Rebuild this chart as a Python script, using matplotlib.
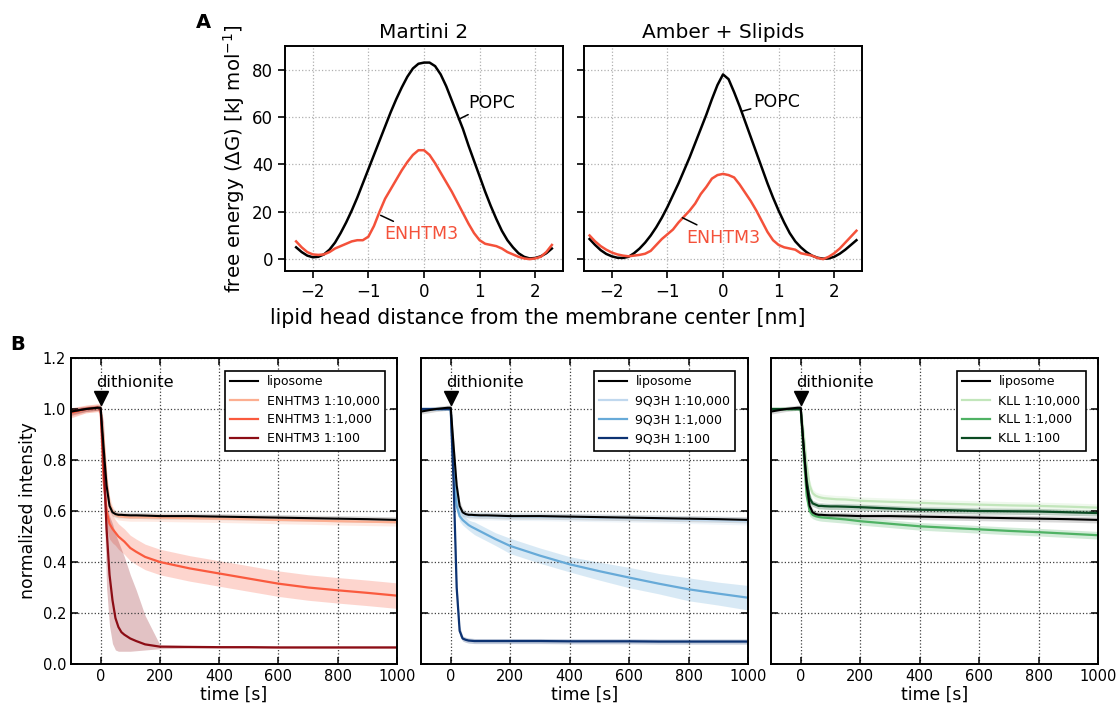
import numpy as np
import matplotlib.pyplot as plt

# ---- panel A: free energy profiles ----
x_martini = [-2.3, -2.2, -2.1, -2.0, -1.9, -1.8, -1.7, -1.6, -1.5, -1.4, -1.3, -1.2,
             -1.1, -1.0, -0.9, -0.8, -0.7, -0.6, -0.5, -0.4, -0.3, -0.2, -0.1, 0.0,
             0.1, 0.2, 0.3, 0.4, 0.5, 0.6, 0.7, 0.8, 0.9, 1.0, 1.1, 1.2, 1.3, 1.4,
             1.5, 1.6, 1.7, 1.8, 1.9, 2.0, 2.1, 2.2, 2.3]
popc_martini = [5, 3, 1.5, 0.8, 1, 2, 4, 7, 11, 15.5, 20.5, 26, 32, 38, 44, 50, 56,
                62, 67.5, 72.5, 77, 80.5, 82.5, 83, 83, 81.5, 78, 73, 67, 61, 55, 48,
                41.5, 35, 28.5, 22.5, 17, 12, 8, 5, 2.5, 1, 0.3, 0.5, 1.2, 2.5, 4.5]
enhtm3_martini = [7.5, 5, 3, 2, 1.8, 2, 3, 4.5, 5.5, 6.5, 7.5, 8, 8, 9.5, 14, 20,
                  25.5, 29.5, 33.5, 37.5, 41, 44, 46, 46, 44, 40.5, 36.5, 32.5, 28.5,
                  24, 19.5, 15, 11, 8, 6.5, 6, 5.5, 4.5, 3, 2, 1, 0.3, 0, 0.3, 1, 3, 6]

x_amber = [-2.4, -2.3, -2.2, -2.1, -2.0, -1.9, -1.8, -1.7, -1.6, -1.5, -1.4, -1.3,
           -1.2, -1.1, -1.0, -0.9, -0.8, -0.7, -0.6, -0.5, -0.4, -0.3, -0.2, -0.1,
           0.0, 0.1, 0.2, 0.3, 0.4, 0.5, 0.6, 0.7, 0.8, 0.9, 1.0, 1.1, 1.2, 1.3, 1.4,
           1.5, 1.6, 1.7, 1.8, 1.9, 2.0, 2.1, 2.2, 2.3, 2.4]
popc_amber = [8.5, 6, 3.8, 2.2, 1.2, 0.6, 0.5, 1, 2.5, 4.5, 7, 10, 13.5, 17.5, 22,
              27, 32, 37.5, 43, 49, 55, 61, 67.5, 73.5, 78, 76, 70.5, 64.5, 58, 51.5,
              45, 38.5, 32, 26, 20.5, 15.5, 11, 7.5, 5, 3, 1.5, 0.6, 0.2, 0.3, 1, 2.3,
              4, 6, 8]
enhtm3_amber = [10, 7.5, 5.5, 4, 2.8, 2, 1.5, 1.2, 1.5, 1.8, 2.3, 3.5, 6, 8.5, 10.5,
                12.5, 15.5, 18, 20.5, 23.5, 27.5, 30.5, 34, 35.5, 36, 35.5, 34.5,
                31.5, 28, 24.5, 20.5, 16, 11.5, 8, 6, 5, 4.5, 4, 2.5, 2, 1.5, 0.5, 0,
                1, 2.5, 4.5, 7, 9.5, 12]

# ---- panel B: dithionite quenching ----
t = [-100, -50, -10, 0, 10, 20, 30, 40, 50, 60, 70, 80, 100, 120, 150, 200, 300,
     400, 500, 600, 700, 800, 900, 1000]
liposome = [0.99, 1.0, 1.005, 1.005, 0.85, 0.7, 0.62, 0.595, 0.588, 0.585, 0.585,
            0.584, 0.583, 0.583, 0.582, 0.58, 0.58, 0.578, 0.576, 0.574, 0.572, 0.57,
            0.568, 0.565]
liposome_sd = [0.01] * 4 + [0.03, 0.03, 0.02, 0.015] + [0.012] * 16

enhtm3_labels = ['ENHTM3 1:10,000', 'ENHTM3 1:1,000', 'ENHTM3 1:100']
enhtm3_mean = [
    [0.985, 1.0, 1.005, 1.0, 0.88, 0.72, 0.63, 0.6, 0.585, 0.58, 0.578, 0.577, 0.575,
     0.575, 0.575, 0.574, 0.572, 0.57, 0.568, 0.565, 0.563, 0.56, 0.558, 0.556],
    [0.985, 1.0, 1.005, 1.0, 0.72, 0.6, 0.55, 0.53, 0.515, 0.5, 0.49, 0.48, 0.455,
     0.44, 0.42, 0.40, 0.375, 0.355, 0.335, 0.315, 0.30, 0.289, 0.279, 0.268],
    [0.99, 1.0, 1.005, 1.0, 0.8, 0.53, 0.35, 0.25, 0.18, 0.145, 0.125, 0.115, 0.1,
     0.09, 0.077, 0.068, 0.067, 0.066, 0.066, 0.065, 0.065, 0.065, 0.065, 0.065],
]
enhtm3_sd = [
    [0.015] * 4 + [0.05, 0.04, 0.03, 0.02] + [0.015] * 16,
    [0.02, 0.015, 0.015, 0.02] + [0.08, 0.07, 0.06, 0.055] + [0.05] * 16,
    None,
]
# the 1:100 band is lopsided, so its edges are kept as they are read
enhtm3_100_lo = [0.975, 0.99, 0.995, 0.99, 0.7, 0.3, 0.15, 0.08, 0.055, 0.05, 0.05,
                 0.05, 0.05, 0.052, 0.055, 0.06, 0.062, 0.062, 0.062, 0.061, 0.061,
                 0.061, 0.061, 0.061]
enhtm3_100_hi = [1.005, 1.01, 1.015, 1.01, 0.95, 0.62, 0.58, 0.55, 0.51, 0.48, 0.45,
                 0.42, 0.35, 0.29, 0.19, 0.075, 0.072, 0.07, 0.07, 0.069, 0.069, 0.069,
                 0.069, 0.069]

q3h_labels = ['9Q3H 1:10,000', '9Q3H 1:1,000', '9Q3H 1:100']
q3h_mean = [
    [1.0, 1.0, 1.0, 1.0, 0.8, 0.66, 0.6, 0.59, 0.585, 0.582, 0.581, 0.58, 0.58, 0.58,
     0.579, 0.578, 0.577, 0.575, 0.573, 0.571, 0.569, 0.566, 0.563, 0.56],
    [1.0, 1.0, 1.0, 1.0, 0.75, 0.62, 0.58, 0.565, 0.555, 0.545, 0.538, 0.532, 0.52,
     0.508, 0.49, 0.463, 0.425, 0.391, 0.364, 0.339, 0.315, 0.293, 0.276, 0.26],
    [1.0, 1.0, 1.0, 1.0, 0.7, 0.3, 0.13, 0.1, 0.095, 0.092, 0.091, 0.09, 0.09, 0.09,
     0.09, 0.09, 0.09, 0.089, 0.089, 0.089, 0.088, 0.088, 0.088, 0.088],
]
q3h_sd = [
    [0.005] * 4 + [0.04, 0.03, 0.02, 0.015] + [0.015] * 16,
    [0.005] * 4 + [0.03, 0.02, 0.02, 0.02, 0.02, 0.02, 0.022, 0.025, 0.025, 0.025,
                   0.025, 0.03, 0.03, 0.03, 0.035, 0.04, 0.04, 0.045, 0.045, 0.048],
    [0.005] * 4 + [0.03, 0.03, 0.02] + [0.01] * 17,
]

kll_labels = ['KLL 1:10,000', 'KLL 1:1,000', 'KLL 1:100']
kll_mean = [
    [1.0, 1.0, 1.0, 1.0, 0.9, 0.78, 0.7, 0.67, 0.66, 0.655, 0.652, 0.65, 0.648, 0.646,
     0.645, 0.64, 0.636, 0.632, 0.628, 0.625, 0.622, 0.62, 0.617, 0.613],
    [1.0, 1.0, 1.0, 1.0, 0.82, 0.66, 0.6, 0.585, 0.58, 0.577, 0.575, 0.574, 0.572,
     0.57, 0.567, 0.56, 0.55, 0.54, 0.534, 0.528, 0.522, 0.517, 0.511, 0.505],
    [1.0, 1.0, 1.0, 1.0, 0.85, 0.72, 0.65, 0.63, 0.625, 0.62, 0.62, 0.619, 0.618,
     0.618, 0.617, 0.615, 0.61, 0.605, 0.603, 0.6, 0.599, 0.598, 0.595, 0.592],
]
kll_sd = [
    [0.005] * 4 + [0.04, 0.03, 0.02] + [0.015] * 17,
    [0.005] * 4 + [0.04, 0.03, 0.02] + [0.015] * 17,
    [0.005] * 4 + [0.04, 0.03, 0.02] + [0.012] * 17,
]

reds = ['#fcae91', '#fa5a3e', '#8c0d15']
blues = ['#c0d8ee', '#67aad8', '#0c3272']
greens = ['#c2e6bb', '#4fb264', '#0a4a22']

W, H = 1118, 703
fig = plt.figure(figsize=(W / 100, H / 100), dpi=100)


def box(l, r, top, bot):
    return [l / W, 1 - bot / H, (r - l) / W, (bot - top) / H]


# ---- panel A ----
red_a = '#f4513a'
axA1 = fig.add_axes(box(285, 563, 46, 271))
axA2 = fig.add_axes(box(584, 862, 46, 271))
for ax, xs, popc, enh, title in [(axA1, x_martini, popc_martini, enhtm3_martini, 'Martini 2'),
                                 (axA2, x_amber, popc_amber, enhtm3_amber, 'Amber + Slipids')]:
    ax.plot(xs, popc, color='black', lw=1.8)
    ax.plot(xs, enh, color=red_a, lw=1.8)
    ax.set_xlim(-2.5, 2.5)
    ax.set_ylim(-5, 90)
    ax.set_xticks([-2, -1, 0, 1, 2])
    ax.set_yticks([0, 20, 40, 60, 80])
    ax.grid(True, ls=':', color='#b0b0b0', lw=0.9)
    ax.tick_params(labelsize=12, width=1.2, length=5)
    ax.set_title(title, fontsize=14.5, pad=6)
    for s in ax.spines.values():
        s.set_linewidth(1.4)

axA2.set_yticklabels([])
axA1.set_ylabel('free energy ($\\Delta$G) [kJ mol$^{-1}$]', fontsize=14.2, labelpad=4)

axA1.annotate('POPC', xy=(0.62, 59), xytext=(0.8, 66), fontsize=12.5, va='center',
              arrowprops=dict(arrowstyle='-', color='black', lw=1.1, shrinkA=0, shrinkB=0))
axA1.annotate('ENHTM3', xy=(-0.78, 18.5), xytext=(-0.72, 10.5), fontsize=12.5,
              color=red_a, va='center',
              arrowprops=dict(arrowstyle='-', color='black', lw=1.1, shrinkA=2, shrinkB=0))
axA2.annotate('POPC', xy=(0.35, 62.5), xytext=(0.55, 66.5), fontsize=12.5, va='center',
              arrowprops=dict(arrowstyle='-', color='black', lw=1.1, shrinkA=0, shrinkB=0))
axA2.annotate('ENHTM3', xy=(-0.73, 17.5), xytext=(-0.66, 9), fontsize=12.5,
              color=red_a, va='center',
              arrowprops=dict(arrowstyle='-', color='black', lw=1.1, shrinkA=2, shrinkB=0))

fig.text(538 / W, 1 - 318 / H, 'lipid head distance from the membrane center [nm]',
         ha='center', va='center', fontsize=14.8)
fig.text(196 / W, 1 - 22 / H, 'A', fontsize=14, fontweight='bold', va='center')
fig.text(10 / W, 1 - 345 / H, 'B', fontsize=14, fontweight='bold', va='center')

# ---- panel B ----
panels = [
    (box(71, 397, 358, 664), enhtm3_labels, enhtm3_mean, enhtm3_sd, reds),
    (box(421, 748, 358, 664), q3h_labels, q3h_mean, q3h_sd, blues),
    (box(771, 1098, 358, 664), kll_labels, kll_mean, kll_sd, greens),
]
tt = np.array(t)
for i, (pos, labels, means, sds, cols) in enumerate(panels):
    ax = fig.add_axes(pos)
    lm, ls = np.array(liposome), np.array(liposome_sd)
    ax.fill_between(tt, lm - ls, lm + ls, color='grey', alpha=0.3, lw=0)
    for m, s, c in zip(means, sds, cols):
        m = np.array(m)
        if s is None:
            lo, hi = np.array(enhtm3_100_lo), np.array(enhtm3_100_hi)
        else:
            lo, hi = m - np.array(s), m + np.array(s)
        ax.fill_between(tt, lo, hi, color=c, alpha=0.25, lw=0)
    ax.plot(tt, lm, color='black', lw=1.5, label='liposome', zorder=3)
    for m, c, lab in zip(means, cols, labels):
        ax.plot(tt, m, color=c, lw=1.6, label=lab, zorder=2)
    ax.set_xlim(-100, 1000)
    ax.set_ylim(0, 1.2)
    ax.set_xticks([0, 200, 400, 600, 800, 1000])
    ax.set_yticks([0.0, 0.2, 0.4, 0.6, 0.8, 1.0, 1.2])
    ax.grid(True, ls=':', color='#404040', lw=0.9)
    ax.tick_params(direction='in', top=True, right=True, labelsize=10.5,
                   width=1.1, length=5)
    for s in ax.spines.values():
        s.set_linewidth(1.4)
    ax.set_xlabel('time [s]', fontsize=12.4, labelpad=1)
    if i == 0:
        ax.set_ylabel('normalized intensity', fontsize=12.4)
    else:
        ax.set_yticklabels([])
    ax.plot([0], [1.045], marker='v', color='black', ms=10, zorder=5, clip_on=False)
    ax.text(-15, 1.085, 'dithionite', fontsize=11.8, ha='left', va='baseline')
    leg = ax.legend(loc='upper right', fontsize=9, fancybox=False, framealpha=1,
                    edgecolor='black', borderaxespad=1.0, handlelength=2.25,
                    handletextpad=0.7, labelspacing=0.48)
    leg.get_frame().set_linewidth(1.2)

fig.savefig('out.png', dpi=100)
